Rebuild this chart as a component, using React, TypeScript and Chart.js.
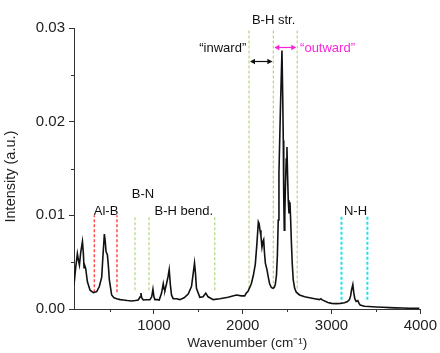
import React, { useEffect, useRef } from "react";
import { Chart, registerables } from "chart.js";

Chart.register(...registerables);

// ---- Spectrum data (wavenumber cm^-1, intensity a.u.) ----
const wavenumbers = [
  100, 120, 138, 150, 161, 175, 195, 205, 213, 222, 232, 251, 281, 318, 356, 385, 412, 425, 442, 452,
  461, 476, 488, 498, 524, 550, 581, 620, 655, 700, 749, 790, 824, 845, 854, 862, 880, 920, 955, 975,
  989, 1000, 1011, 1040, 1060, 1086, 1105, 1115, 1124, 1142, 1160, 1172, 1185, 1198, 1217, 1255, 1292, 1340, 1386, 1423,
  1445, 1457, 1468, 1479, 1517, 1554, 1584, 1610, 1667, 1742, 1835, 1929, 1985, 2022, 2041, 2060, 2097, 2120, 2142, 2160,
  2176, 2185, 2195, 2205, 2217, 2228, 2236, 2245, 2255, 2273, 2290, 2303, 2322, 2341, 2355, 2367, 2380, 2390, 2400, 2408,
  2425, 2442, 2450, 2457, 2462, 2468, 2474, 2480, 2490, 2498, 2506, 2513, 2521, 2527, 2532, 2540, 2547, 2558, 2569, 2585,
  2603, 2640, 2697, 2753, 2810, 2865, 2880, 2890, 2959, 3000, 3052, 3100, 3146, 3180, 3202, 3215, 3225, 3240, 3250, 3262,
  3277, 3296, 3310, 3322, 3371, 3420, 3502, 3580, 3652, 3720, 3801, 3880, 3989,
];
const intensities = [
  0.0026, 0.0045, 0.0059, 0.0052, 0.0047, 0.006, 0.0072, 0.006, 0.0044, 0.0046, 0.0043, 0.0029, 0.002, 0.00175, 0.00185, 0.0024, 0.0034, 0.0055, 0.008, 0.0072,
  0.0061, 0.0058, 0.0045, 0.0031, 0.0015, 0.0012, 0.0011, 0.001, 0.00096, 0.0009, 0.00085, 0.0009, 0.00096, 0.0013, 0.0017, 0.0012, 0.00096, 0.00098, 0.001, 0.0013,
  0.0021, 0.0013, 0.001, 0.001, 0.00096, 0.0017, 0.0027, 0.0021, 0.002, 0.0027, 0.0035, 0.0042, 0.0026, 0.0015, 0.0011, 0.0011, 0.001, 0.0012, 0.0016, 0.0024,
  0.004, 0.0049, 0.0038, 0.0022, 0.00125, 0.0013, 0.0017, 0.0013, 0.001, 0.0011, 0.00125, 0.0015, 0.0014, 0.0014, 0.0017, 0.0019, 0.0027, 0.0036, 0.0048, 0.007,
  0.0093, 0.0091, 0.0084, 0.0078, 0.0066, 0.0072, 0.0074, 0.006, 0.0049, 0.0042, 0.0033, 0.0027, 0.0023, 0.0022, 0.0023, 0.0026, 0.0036, 0.0056, 0.0095, 0.0145,
  0.0215, 0.0276, 0.023, 0.018, 0.012, 0.0084, 0.01, 0.0127, 0.016, 0.0173, 0.014, 0.0116, 0.0102, 0.011, 0.0114, 0.0095, 0.0074, 0.0048, 0.0031, 0.0022,
  0.0018, 0.0015, 0.0013, 0.0012, 0.0011, 0.001, 0.0011, 0.001, 0.0007, 0.0006, 0.00057, 0.0006, 0.00067, 0.0008, 0.001, 0.0014, 0.002, 0.0026, 0.0018, 0.0011,
  0.0008, 0.0009, 0.0006, 0.00043, 0.0003, 0.00027, 0.00022, 0.00018, 0.00015, 0.00012, 0.0001, 0.00008, 0.00007,
];

// ---- Axis ticks ----
const xMajorTicks = [1000, 2000, 3000, 4000];
const xMinorTicks = [500, 1500, 2500, 3500];
const yMajorTicks = [0, 0.01, 0.02, 0.03];
const yMinorTicks = [0.005, 0.015, 0.025];

// ---- Band marker lines (x position, y from..to) ----
const alBMarkers = [329, 584];
const alBRange = [0.0018, 0.01];
const bnMarkers = [787, 944];
const bnRange = [0.002, 0.0098];
const bhBendMarkers = [1685];
const bhBendRange = [0.002, 0.01];
const bhStrMarkers = [2071, 2345, 2614];
const bhStrRange = [0.0022, 0.0299];
const nhMarkers = [3112, 3404];
const nhRange = [0.001, 0.0099];

// ---- Annotation labels ----
const labelTexts = ["Al-B", "B-N", "B-H bend.", "N-H", "B-H str.", "\u201Cinward\u201D", "\u201Coutward\u201D"];
const labelX = [461, 876, 1337, 3270, 2348, 1775, 2955];
const labelY = [0.01046, 0.01227, 0.01046, 0.01046, 0.03084, 0.02786, 0.02786];

// ---- Arrows (from, to, y) ----
const inwardArrow = [2071, 2345, 0.02647];
const outwardArrow = [2345, 2614, 0.028];

const FONT = '"Liberation Sans", Arial, Helvetica, sans-serif';
const AXIS = "#333";
const RED = "#ff4d4d";
const GREEN = "#b7d98a";
const CYAN = "#22e0f0";
const MAGENTA = "#ff22dd";

function markerSets(xs: number[], range: number[], color: string, width: number) {
  return xs.map((x) => ({
    data: [
      { x, y: range[0] },
      { x, y: range[1] },
    ],
    borderColor: color,
    borderWidth: width,
    borderDash: [3, 2],
    pointRadius: 0,
    fill: false,
    tension: 0,
  }));
}

const annotatePlugin = {
  id: "annotate",
  afterDraw(chart: any) {
    const ctx = chart.ctx;
    const xs = chart.scales.x;
    const ys = chart.scales.y;
    ctx.save();
    // minor ticks
    ctx.strokeStyle = AXIS;
    ctx.lineWidth = 1;
    const bottom = chart.chartArea.bottom;
    const left = chart.chartArea.left;
    xMinorTicks.forEach((v) => {
      const px = Math.round(xs.getPixelForValue(v)) + 0.5;
      ctx.beginPath();
      ctx.moveTo(px, bottom);
      ctx.lineTo(px, bottom + 3);
      ctx.stroke();
    });
    yMinorTicks.forEach((v) => {
      const py = Math.round(ys.getPixelForValue(v)) + 0.5;
      ctx.beginPath();
      ctx.moveTo(left, py);
      ctx.lineTo(left - 3, py);
      ctx.stroke();
    });

    // arrows
    const drawArrow = (a: number[], color: string) => {
      const x1 = xs.getPixelForValue(a[0]);
      const x2 = xs.getPixelForValue(a[1]);
      const y = Math.round(ys.getPixelForValue(a[2])) + 0.5;
      ctx.strokeStyle = color;
      ctx.fillStyle = color;
      ctx.lineWidth = 1.2;
      ctx.beginPath();
      ctx.moveTo(x1 + 2, y);
      ctx.lineTo(x2 - 2, y);
      ctx.stroke();
      const head = (tip: number, dir: number) => {
        ctx.beginPath();
        ctx.moveTo(tip, y);
        ctx.lineTo(tip - dir * 5, y - 2.8);
        ctx.lineTo(tip - dir * 5, y + 2.8);
        ctx.closePath();
        ctx.fill();
      };
      head(x1 + 1, -1);
      head(x2 - 1, 1);
    };
    drawArrow(inwardArrow, "#111");
    drawArrow(outwardArrow, MAGENTA);

    // labels
    ctx.font = `13px ${FONT}`;
    ctx.textAlign = "center";
    ctx.textBaseline = "middle";
    labelTexts.forEach((t, i) => {
      ctx.fillStyle = t.indexOf("outward") >= 0 ? MAGENTA : "#111";
      ctx.fillText(t, xs.getPixelForValue(labelX[i]), ys.getPixelForValue(labelY[i]));
    });
    ctx.restore();
  },
};

export default function App() {
  const ref = useRef<HTMLCanvasElement | null>(null);
  useEffect(() => {
    if (!ref.current) return;
    const spectrum = wavenumbers.map((x, i) => ({ x, y: intensities[i] }));
    const chart = new Chart(ref.current, {
      type: "line",
      data: {
        datasets: [
          {
            data: spectrum,
            borderColor: "#111",
            borderWidth: 1.6,
            pointRadius: 0,
            fill: false,
            tension: 0,
          },
          ...markerSets(alBMarkers, alBRange, RED, 1.5),
          ...markerSets(bnMarkers, bnRange, GREEN, 1.3),
          ...markerSets(bhBendMarkers, bhBendRange, GREEN, 1.3),
          ...markerSets(bhStrMarkers, bhStrRange, GREEN, 1.3),
          ...markerSets(nhMarkers, nhRange, CYAN, 2),
        ] as any,
      },
      options: {
        animation: false,
        responsive: false,
        devicePixelRatio: 1,
        layout: { padding: { top: 28, right: 19, left: 0, bottom: 0 } },
        plugins: { legend: { display: false }, tooltip: { enabled: false } },
        scales: {
          x: {
            type: "linear",
            min: 100,
            max: 4000,
            afterBuildTicks: (s: any) => {
              s.ticks = xMajorTicks.map((v) => ({ value: v }));
            },
            afterFit: (s: any) => {
              s.height = 44;
            },
            ticks: {
              callback: (v: any) => String(v),
              font: { size: 15, family: FONT },
              color: "#222",
              padding: 3,
              maxRotation: 0,
              autoSkip: false,
            },
            grid: { display: true, drawOnChartArea: false, drawTicks: true, tickLength: 5, color: AXIS, lineWidth: 1 },
            border: { display: true, color: AXIS, width: 1 },
            title: {
              display: true,
              text: "Wavenumber (cm\u207B\u00B9)",
              font: { size: 13.5, family: FONT },
              color: "#222",
              padding: { top: 0, bottom: 2 },
            },
          },
          y: {
            type: "linear",
            min: 0,
            max: 0.03,
            afterBuildTicks: (s: any) => {
              s.ticks = yMajorTicks.map((v) => ({ value: v }));
            },
            afterFit: (s: any) => {
              s.width = 74;
            },
            ticks: {
              callback: (v: any) => Number(v).toFixed(2),
              font: { size: 15, family: FONT },
              color: "#222",
              padding: 4,
            },
            grid: { display: true, drawOnChartArea: false, drawTicks: true, tickLength: 5, color: AXIS, lineWidth: 1 },
            border: { display: true, color: AXIS, width: 1 },
            title: {
              display: true,
              text: "Intensity (a.u.)\u00A0\u00A0\u00A0\u00A0",
              font: { size: 14.5, family: FONT },
              color: "#222",
              padding: { top: 2, bottom: 0 },
            },
          },
        },
      },
      plugins: [annotatePlugin],
    } as any);
    return () => chart.destroy();
  }, []);

  return (
    <div style={{ position: "absolute", left: 0, top: 0, width: 440, height: 353, background: "#fff" }}>
      <canvas ref={ref} width={440} height={353} style={{ display: "block", width: 440, height: 353 }} />
    </div>
  );
}
